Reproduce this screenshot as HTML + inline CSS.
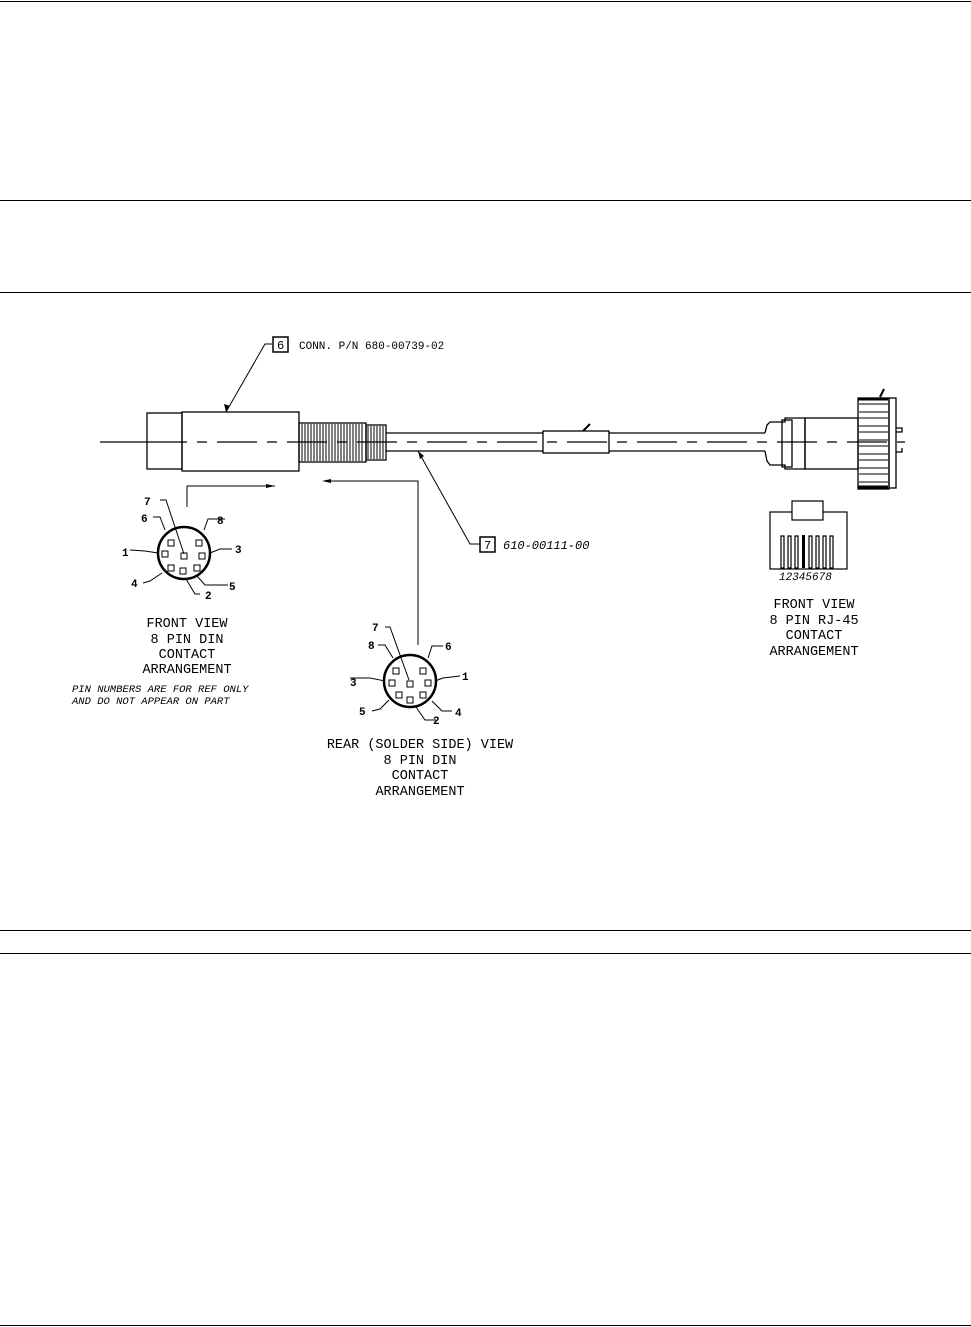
<!DOCTYPE html>
<html><head><style>
html,body{margin:0;padding:0;background:#fff}
svg{display:block}
text{font-family:"Liberation Mono",monospace;fill:#000}
</style></head><body>
<svg width="971" height="1327" viewBox="0 0 971 1327" xmlns="http://www.w3.org/2000/svg">
<g stroke="#000" stroke-width="1" fill="none">
<line x1="0" y1="1.5" x2="971" y2="1.5"/>
<line x1="0" y1="200.5" x2="971" y2="200.5"/>
<line x1="0" y1="292.5" x2="971" y2="292.5"/>
<line x1="0" y1="930.5" x2="971" y2="930.5"/>
<line x1="0" y1="953.5" x2="971" y2="953.5"/>
<line x1="0" y1="1325.5" x2="971" y2="1325.5"/>
</g>
<g stroke="#000" stroke-width="1.3" fill="none">
<line x1="100" y1="442" x2="147" y2="442"/>
<line x1="147" y1="442" x2="905" y2="442" stroke-dasharray="40,10,10,10"/>
<rect x="147" y="413" width="35" height="56"/>
<rect x="182" y="412" width="117" height="59"/>
<rect x="299" y="423" width="67" height="39"/>
<rect x="366" y="425" width="20" height="35"/>
<line x1="386" y1="433" x2="543" y2="433"/>
<line x1="386" y1="451" x2="543" y2="451"/>
<rect x="543" y="431" width="66" height="22"/>
<line x1="609" y1="433" x2="765" y2="433"/>
<line x1="609" y1="451" x2="765" y2="451"/>
<line x1="583" y1="431" x2="590" y2="424" stroke-width="2"/>
<path d="M765 433 L767 425 L770 422 L785 422 L785 418 L805 418 L805 469 L785 469 L785 465 L770 465 L767 461 L765 451"/>
<rect x="782" y="420" width="10" height="47"/>
<rect x="805" y="418" width="53" height="51"/>
<rect x="858" y="398" width="31" height="91"/>
<rect x="889" y="398" width="7" height="90"/>
<line x1="880" y1="397" x2="884" y2="389" stroke-width="2"/>
<path d="M896 428 h6 v4 h-6 M896 452 h6 v-4"/>
</g>
<g stroke="#000" stroke-width="1" fill="none">
<path d="M302 424v37M305 424v37M308 424v37M311 424v37M314 424v37M317 424v37M320 424v37M323 424v37M326 424v37M329 424v37M332 424v37M335 424v37M338 424v37M341 424v37M344 424v37M347 424v37M350 424v37M353 424v37M356 424v37M359 424v37M362 424v37M368 426v33M371 426v33M374 426v33M377 426v33M380 426v33M383 426v33"/>
<path d="M859 404h29M859 412h29M859 418h29M859 426h29M859 432h29M859 440h29M859 446h29M859 454h29M859 460h29M859 468h29M859 474h29M859 482h29"/>
<path d="M272 344 L265 344 L226 412"/>
<path d="M418 451 L470 544 L480 544"/>
<path d="M187 507 L187 486 L275 486"/>
<path d="M418 645 L418 481 L330 481"/>
</g>
<line x1="858" y1="399" x2="888" y2="399" stroke="#000" stroke-width="3"/>
<line x1="858" y1="487" x2="888" y2="487" stroke="#000" stroke-width="3"/>
<polygon points="226,412 224,404 230,406" fill="#000"/>
<polygon points="418,451 420,459 424,456" fill="#000"/>
<polygon points="275,486 266,484 266,488" fill="#000"/>
<polygon points="322,481 331,479 331,483" fill="#000"/>
<rect x="273" y="337" width="15" height="15" fill="none" stroke="#000" stroke-width="1.5"/>
<text x="277" y="349" font-size="12">6</text>
<text x="299" y="349" font-size="11">CONN. P/N 680-00739-02</text>
<rect x="480" y="537" width="15" height="15" fill="none" stroke="#000" stroke-width="1.5"/>
<text x="484" y="549" font-size="12">7</text>
<text x="503" y="549" font-size="12" font-style="italic">610-00111-00</text>
<g stroke="#000" fill="none">
<circle cx="184" cy="553" r="26" stroke-width="2.5"/>
<g stroke-width="1"><rect x="168" y="540" width="6" height="6"/><rect x="196" y="540" width="6" height="6"/><rect x="162" y="551" width="6" height="6"/><rect x="181" y="553" width="6" height="6"/><rect x="199" y="553" width="6" height="6"/><rect x="168" y="565" width="6" height="6"/><rect x="180" y="568" width="6" height="6"/><rect x="194" y="565" width="6" height="6"/>
<path d="M160 500 L166 500 L184 554"/><path d="M153 517 L160 517 L165 530"/><path d="M225 519 L208 519 L204 530"/><path d="M130 550 L145 551 L158 553"/><path d="M232 549 L220 549 L210 553"/><path d="M143 583 L150 581 L162 573"/><path d="M228 585 L205 585 L197 576"/><path d="M200 594 L195 594 L186 579"/></g>
</g>
<g font-size="11" font-weight="bold">
<text x="144" y="505">7</text><text x="141" y="522">6</text><text x="217" y="524">8</text><text x="122" y="556">1</text><text x="235" y="553">3</text><text x="131" y="587">4</text><text x="229" y="590">5</text><text x="205" y="599">2</text>
</g>
<g stroke="#000" fill="none">
<circle cx="410" cy="681" r="26" stroke-width="2.5"/>
<g stroke-width="1"><rect x="393" y="668" width="6" height="6"/><rect x="420" y="668" width="6" height="6"/><rect x="389" y="680" width="6" height="6"/><rect x="407" y="681" width="6" height="6"/><rect x="425" y="680" width="6" height="6"/><rect x="396" y="692" width="6" height="6"/><rect x="407" y="697" width="6" height="6"/><rect x="420" y="692" width="6" height="6"/>
<path d="M385 627 L390 627 L409 680"/><path d="M378 645 L385 645 L393 658"/><path d="M443 646 L432 646 L428 658"/><path d="M350 678 L370 678 L385 681"/><path d="M460 676 L443 678 L435 681"/><path d="M372 711 L380 709 L389 700"/><path d="M452 711 L442 711 L432 701"/><path d="M436 720 L425 720 L416 707"/></g>
</g>
<g font-size="11" font-weight="bold">
<text x="372" y="631">7</text><text x="368" y="649">8</text><text x="445" y="650">6</text><text x="350" y="686">3</text><text x="462" y="680">1</text><text x="359" y="715">5</text><text x="455" y="716">4</text><text x="433" y="724">2</text>
</g>
<g stroke="#000" fill="none" stroke-width="1.2">
<rect x="770" y="512" width="77" height="57"/>
<rect x="792" y="501" width="31" height="19" fill="#fff"/>
<path d="M781 536h3v32h-3zM788 536h3v32h-3zM795 536h3v32h-3zM809 536h3v32h-3zM816 536h3v32h-3zM823 536h3v32h-3zM830 536h3v32h-3z"/>
</g>
<rect x="802" y="535" width="3" height="33" fill="#000"/>
<text x="779" y="580" font-size="11" font-style="italic">12345678</text>
<g font-size="13.5" text-anchor="middle">
<text x="187" y="627">FRONT VIEW</text>
<text x="187" y="643">8 PIN DIN</text>
<text x="187" y="658">CONTACT</text>
<text x="187" y="673">ARRANGEMENT</text>
<text x="420" y="748">REAR (SOLDER SIDE) VIEW</text>
<text x="420" y="764">8 PIN DIN</text>
<text x="420" y="779">CONTACT</text>
<text x="420" y="795">ARRANGEMENT</text>
<text x="814" y="608">FRONT VIEW</text>
<text x="814" y="624">8 PIN RJ-45</text>
<text x="814" y="639">CONTACT</text>
<text x="814" y="655">ARRANGEMENT</text>
</g>
<g font-size="10.5" font-style="italic">
<text x="72" y="692">PIN NUMBERS ARE FOR REF ONLY</text>
<text x="72" y="704">AND DO NOT APPEAR ON PART</text>
</g>
</svg>
</body></html>
